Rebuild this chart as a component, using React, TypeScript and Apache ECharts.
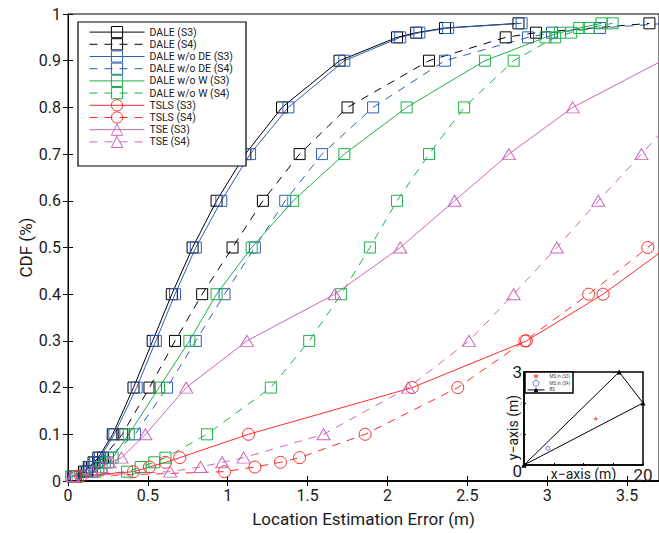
import React, { useEffect, useRef } from "react";
import * as echarts from "echarts";

// ---- Data ----
const daleS3Y = [0.01, 0.02, 0.03, 0.04, 0.05, 0.1, 0.2, 0.3, 0.4, 0.5, 0.6, 0.7, 0.8, 0.9, 0.95, 0.96, 0.97, 0.98];
const daleS3X = [0.03, 0.10, 0.13, 0.16, 0.19, 0.28, 0.41, 0.53, 0.65, 0.78, 0.93, 1.11, 1.34, 1.70, 2.06, 2.18, 2.36, 2.82];

const daleS4Y = [0.01, 0.02, 0.03, 0.04, 0.05, 0.1, 0.2, 0.3, 0.4, 0.5, 0.6, 0.7, 0.8, 0.9, 0.95, 0.96, 0.98];
const daleS4X = [0.04, 0.12, 0.15, 0.19, 0.22, 0.34, 0.51, 0.67, 0.84, 1.03, 1.22, 1.45, 1.75, 2.26, 2.74, 2.93, 3.64];

const noDeS3Y = [0.01, 0.02, 0.03, 0.04, 0.05, 0.1, 0.2, 0.3, 0.4, 0.5, 0.6, 0.7, 0.8, 0.9, 0.95, 0.96, 0.97, 0.98];
const noDeS3X = [0.035, 0.11, 0.14, 0.17, 0.20, 0.29, 0.43, 0.55, 0.67, 0.80, 0.96, 1.14, 1.38, 1.73, 2.08, 2.20, 2.38, 2.84];

const noDeS4Y = [0.01, 0.02, 0.03, 0.04, 0.05, 0.1, 0.2, 0.3, 0.4, 0.5, 0.6, 0.7, 0.8, 0.9, 0.95, 0.96, 0.97, 0.98];
const noDeS4X = [0.05, 0.15, 0.19, 0.23, 0.25, 0.42, 0.62, 0.80, 0.98, 1.17, 1.36, 1.59, 1.91, 2.36, 2.88, 3.03, 3.33, 3.75];

const noWS3Y = [0.01, 0.02, 0.03, 0.04, 0.05, 0.1, 0.2, 0.3, 0.4, 0.5, 0.6, 0.7, 0.8, 0.9, 0.95, 0.96, 0.97, 0.98];
const noWS3X = [0.06, 0.17, 0.21, 0.25, 0.28, 0.38, 0.57, 0.76, 0.93, 1.15, 1.41, 1.73, 2.12, 2.61, 2.99, 3.08, 3.20, 3.34];

const noWS4Y = [0.01, 0.02, 0.03, 0.04, 0.05, 0.1, 0.2, 0.3, 0.4, 0.5, 0.6, 0.7, 0.8, 0.9, 0.95, 0.96, 0.97, 0.98];
const noWS4X = [0.02, 0.37, 0.455, 0.54, 0.61, 0.87, 1.27, 1.51, 1.71, 1.89, 2.06, 2.26, 2.48, 2.79, 3.05, 3.15, 3.26, 3.41];

const tslsS3Y = [0.01, 0.02, 0.03, 0.04, 0.05, 0.1, 0.2, 0.3, 0.4, 0.5];
const tslsS3X = [0.045, 0.41, 0.51, 0.61, 0.70, 1.13, 2.155, 2.87, 3.35, 3.75];

const tslsS4Y = [0.01, 0.02, 0.03, 0.04, 0.05, 0.1, 0.2, 0.3, 0.4, 0.5, 0.6];
const tslsS4X = [0.08, 0.98, 1.17, 1.33, 1.45, 1.86, 2.44, 2.86, 3.26, 3.63, 3.98];

const tseS3Y = [0.01, 0.02, 0.03, 0.04, 0.05, 0.1, 0.2, 0.3, 0.4, 0.5, 0.6, 0.7, 0.8, 0.9];
const tseS3X = [0.03, 0.15, 0.21, 0.26, 0.335, 0.485, 0.74, 1.12, 1.67, 2.08, 2.42, 2.76, 3.16, 3.72];

const tseS4Y = [0.01, 0.02, 0.03, 0.04, 0.05, 0.1, 0.2, 0.3, 0.4, 0.5, 0.6, 0.7, 0.8];
const tseS4X = [0.03, 0.64, 0.83, 0.965, 1.10, 1.60, 2.13, 2.51, 2.79, 3.06, 3.32, 3.59, 3.86];

// Inset (room layout)
const bsX = [0, 16, 20, 0];
const bsY = [0, 3, 2, 0];
const msS3 = [12.05, 1.5];
const msS4 = [4.03, 0.54];

const xTicks = [0, 0.5, 1, 1.5, 2, 2.5, 3, 3.5];

const FONT = "Roboto, 'Noto Sans', sans-serif";
const BLACK = "#000000";
const BLUE = "#2f5fb8";
const GREEN = "#1db04a";
const RED = "#ff2a2a";
const MAGENTA = "#cc66bb";
const DASH = [8, 7];
const STAR = "path://M50,0 L61,35 L98,35 L68,57 L79,91 L50,70 L21,91 L32,57 L2,35 L39,35 Z";

const pairs = (xs: number[], ys: number[]) => xs.map((x, i) => [x, ys[i]]);

function mainSeries(name: string, xs: number[], ys: number[], color: string, dashed: boolean, symbol: string, size: any) {
  return {
    name,
    type: "line",
    xAxisIndex: 0,
    yAxisIndex: 0,
    data: pairs(xs, ys),
    symbol,
    symbolSize: size,
    showAllSymbol: true,
    lineStyle: { color, width: 1, type: dashed ? DASH : "solid" },
    itemStyle: { color: "rgba(0,0,0,0)", borderColor: color, borderWidth: 1 },
    emphasis: { disabled: true },
    z: 2,
  };
}

export default function App() {
  const ref = useRef<HTMLDivElement>(null);

  useEffect(() => {
    if (!ref.current) return;
    const chart = echarts.init(ref.current, undefined, { renderer: "svg" });
    const SQ = 11;
    const CI = 12;
    const TR = [13, 11];
    const mainNames = [
      "DALE (S3)", "DALE (S4)", "DALE w/o DE (S3)", "DALE w/o DE (S4)",
      "DALE w/o W (S3)", "DALE w/o W (S4)", "TSLS (S3)", "TSLS (S4)", "TSE (S3)", "TSE (S4)",
    ];
    const option: any = {
      animation: false,
      backgroundColor: "#fff",
      textStyle: { fontFamily: FONT },
      grid: [
        { left: 68, top: 14, width: 593, height: 467, show: true, borderColor: "#000", borderWidth: 1, backgroundColor: "transparent" },
        { left: 524, top: 372, width: 119, height: 93, show: true, borderColor: "#000", borderWidth: 1.5, backgroundColor: "transparent" },
      ],
      xAxis: [
        {
          type: "value", gridIndex: 0, position: "bottom", min: 0, max: 3.7, interval: 0.5,
          axisLine: { show: true, lineStyle: { color: "#000", width: 1.5 } },
          axisTick: { show: true, inside: true, length: 5, lineStyle: { color: "#000" } },
          axisLabel: {
            fontSize: 16, color: "#1a1a1a", margin: 6, fontFamily: FONT, showMaxLabel: false,
            formatter: (v: number) => (xTicks.some((t) => Math.abs(t - v) < 1e-6) ? String(v) : ""),
          },
          splitLine: { show: false },
          name: "Location Estimation Error (m)", nameLocation: "middle", nameGap: 29, nameMoveOverlap: false,
          nameTextStyle: { fontSize: 17, color: "#1a1a1a", fontFamily: FONT },
        },
        {
          type: "value", gridIndex: 0, position: "top", min: 0, max: 3.7, interval: 0.5,
          axisLine: { show: true, lineStyle: { color: "#000", width: 1.5 } },
          axisTick: { show: true, inside: true, length: 5, lineStyle: { color: "#000" } },
          axisLabel: { show: false },
          splitLine: { show: false },
        },
        {
          type: "value", gridIndex: 1, position: "bottom", min: 0, max: 20, interval: 5,
          axisLine: { show: true, lineStyle: { color: "#000", width: 1.5 } },
          axisTick: { show: true, inside: true, length: 2, lineStyle: { color: "#000" } },
          axisLabel: {
            margin: 1, color: "#1a1a1a", fontFamily: FONT, fontSize: 17,
            formatter: (v: number) => (v === 20 ? "20" : ""),
          },
          splitLine: { show: false },
          name: "x\u2212axis (m)", nameLocation: "middle", nameGap: 2, nameMoveOverlap: false,
          nameTextStyle: { fontSize: 14, color: "#1a1a1a", fontFamily: FONT },
        },
      ],
      yAxis: [
        {
          type: "value", gridIndex: 0, position: "left", min: 0, max: 1, interval: 0.1,
          axisLine: { show: true, lineStyle: { color: "#000", width: 1 } },
          axisTick: { show: true, inside: true, length: 5, lineStyle: { color: "#000" } },
          axisLabel: {
            fontSize: 16, color: "#1a1a1a", margin: 7, fontFamily: FONT,
            formatter: (v: number) => (v === 0 ? "0" : v === 1 ? "1" : v.toFixed(1)),
          },
          splitLine: { show: false },
          name: "CDF (%)", nameLocation: "middle", nameGap: 34, nameMoveOverlap: false,
          nameTextStyle: { fontSize: 17, color: "#1a1a1a", fontFamily: FONT },
        },
        {
          type: "value", gridIndex: 0, position: "right", min: 0, max: 1, interval: 0.1,
          axisLine: { show: true, lineStyle: { color: "#000", width: 1 } },
          axisTick: { show: true, inside: true, length: 5, lineStyle: { color: "#000" } },
          axisLabel: { show: false },
          splitLine: { show: false },
        },
        {
          type: "value", gridIndex: 1, position: "left", min: 0, max: 3, interval: 1,
          axisLine: { show: true, lineStyle: { color: "#000", width: 1.5 } },
          axisTick: { show: true, inside: true, length: 2, lineStyle: { color: "#000" } },
          axisLabel: {
            margin: 2, color: "#1a1a1a", fontFamily: FONT,
            formatter: (v: number) => (v === 0 ? "{z|0}" : v === 3 ? "{b|3}" : "{s|" + v + "}"),
            rich: {
              b: { fontSize: 17, fontFamily: FONT, color: "#1a1a1a" },
              z: { fontSize: 17, fontFamily: FONT, color: "#1a1a1a", padding: [12, 0, 0, 0] },
              s: { fontSize: 4, fontFamily: FONT, color: "#555" },
            },
          },
          splitLine: { show: false },
          name: "y\u2212axis (m)", nameLocation: "middle", nameGap: 4, nameMoveOverlap: false,
          nameTextStyle: { fontSize: 14, color: "#1a1a1a", fontFamily: FONT, padding: [0, 18, 0, 0] },
        },
      ],
      legend: [
        {
          data: mainNames,
          orient: "vertical",
          left: 78,
          top: 22,
          padding: [4, 10, 2, 11],
          itemWidth: 55,
          itemHeight: 14,
          itemGap: 0,
          selectedMode: false,
          textStyle: { fontSize: 10.5, color: "#1a1a1a", fontFamily: FONT },
          itemStyle: { borderWidth: 1 },
          lineStyle: { width: 1 },
          z: 4,
        },
        {
          data: ["MS in (S3)", "MS in (S4)", "BS"],
          orient: "vertical",
          left: 525,
          top: 372,
          padding: [1, 2, 1, 2],
          itemWidth: 17,
          itemHeight: 6,
          itemGap: 0.7,
          selectedMode: false,
          textStyle: { fontSize: 4.5, color: "#444", fontFamily: FONT },
          itemStyle: { borderWidth: 1 },
          lineStyle: { width: 1 },
          z: 4,
        },
      ],
      graphic: [
        { type: "rect", z: 3, shape: { x: 78, y: 22, width: 168, height: 144 }, style: { fill: "#fff", stroke: "#000", lineWidth: 1.2 } },
        { type: "rect", z: 3, shape: { x: 525, y: 372, width: 48, height: 21 }, style: { fill: "#fff", stroke: "#000", lineWidth: 1.5 } },
      ],
      series: [
        mainSeries("DALE (S3)", daleS3X, daleS3Y, BLACK, false, "rect", SQ),
        mainSeries("DALE (S4)", daleS4X, daleS4Y, BLACK, true, "rect", SQ),
        mainSeries("DALE w/o DE (S3)", noDeS3X, noDeS3Y, BLUE, false, "rect", SQ),
        mainSeries("DALE w/o DE (S4)", noDeS4X, noDeS4Y, BLUE, true, "rect", SQ),
        mainSeries("DALE w/o W (S3)", noWS3X, noWS3Y, GREEN, false, "rect", SQ),
        mainSeries("DALE w/o W (S4)", noWS4X, noWS4Y, GREEN, true, "rect", SQ),
        mainSeries("TSLS (S3)", tslsS3X, tslsS3Y, RED, false, "circle", CI),
        mainSeries("TSLS (S4)", tslsS4X, tslsS4Y, RED, true, "circle", CI),
        mainSeries("TSE (S3)", tseS3X, tseS3Y, MAGENTA, false, "triangle", TR),
        mainSeries("TSE (S4)", tseS4X, tseS4Y, MAGENTA, true, "triangle", TR),
        {
          name: "MS in (S3)", type: "scatter", xAxisIndex: 2, yAxisIndex: 2,
          data: [msS3], symbol: STAR, symbolSize: 5,
          itemStyle: { color: RED }, emphasis: { disabled: true }, z: 5,
        },
        {
          name: "MS in (S4)", type: "scatter", xAxisIndex: 2, yAxisIndex: 2,
          data: [msS4], symbol: "circle", symbolSize: 4,
          itemStyle: { color: "rgba(0,0,0,0)", borderColor: BLUE, borderWidth: 1 }, emphasis: { disabled: true }, z: 5,
        },
        {
          name: "BS", type: "line", xAxisIndex: 2, yAxisIndex: 2,
          data: pairs(bsX, bsY), symbol: "triangle", symbolSize: 5, showAllSymbol: true,
          lineStyle: { color: "#000", width: 1 }, itemStyle: { color: "#000" },
          emphasis: { disabled: true }, z: 5, clip: false,
        },
      ],
    };
    chart.setOption(option);
    return () => chart.dispose();
  }, []);

  return (
    <div
      ref={ref}
      style={{ position: "fixed", left: 0, top: 0, width: 659, height: 533, background: "#fff" }}
    />
  );
}
